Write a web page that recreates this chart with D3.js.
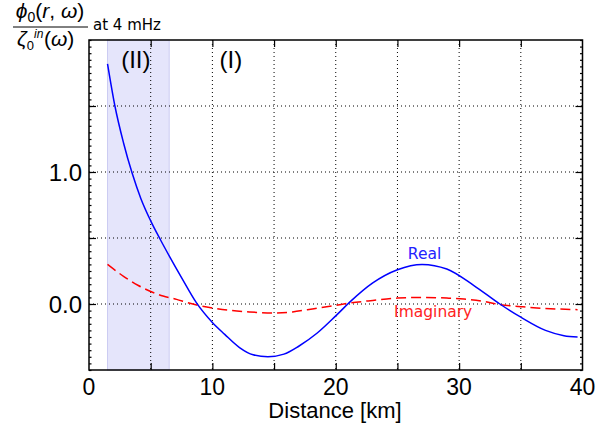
<!DOCTYPE html>
<html>
<head>
<meta charset="utf-8">
<script src="https://cdn.jsdelivr.net/npm/d3@7"></script>
<style>
  body { margin: 0; background: #fff; }
  text { font-family: "Liberation Sans", Arial, sans-serif; }
</style>
</head>
<body>
<div id="chart"></div>
<script>
// distance in km
const distReal = [1.5, 2.1, 2.8, 3.5, 4.2, 5.0, 5.8, 6.5, 7.5, 8.7, 10.0, 11.0, 12.2, 13.3, 14.5, 15.8, 17.0, 18.5, 20.0, 21.2, 23.0, 25.0, 27.0, 29.0, 31.2, 33.3, 35.0, 37.0, 38.5, 39.6];
const realPart = [1.82, 1.50, 1.22, 0.99, 0.80, 0.63, 0.485, 0.365, 0.20, 0.01, -0.14, -0.23, -0.33, -0.385, -0.40, -0.38, -0.32, -0.22, -0.09, 0.02, 0.16, 0.26, 0.30, 0.265, 0.14, 0.00, -0.10, -0.20, -0.24, -0.25];

const distImag = [1.5, 2.8, 4.0, 5.0, 6.0, 7.1, 8.0, 9.0, 10.0, 11.4, 13.0, 15.0, 16.5, 17.7, 19.8, 21.2, 23.0, 25.0, 27.0, 29.0, 30.4, 32.0, 33.3, 35.0, 36.3, 38.0, 39.6];
const imagPart = [0.30, 0.21, 0.14, 0.095, 0.06, 0.035, 0.01, -0.013, -0.03, -0.048, -0.06, -0.068, -0.06, -0.043, -0.013, 0.008, 0.027, 0.045, 0.05, 0.045, 0.038, 0.02, -0.005, -0.02, -0.03, -0.038, -0.043];

const region2 = [1.5, 6.5];          // shaded zone (II)
const xTickLabels = [0, 10, 20, 30, 40];
const yTickLabels = [0.0, 1.0];
const xGrid = [5, 10, 15, 20, 25, 30, 35];
const yGrid = [0.0, 0.5, 1.0, 1.5];

var W = 598, H = 430;
var margin = {top: 40, right: 15.5, bottom: 60, left: 89};

var svg = d3.select("#chart").append("svg")
  .attr("width", W)
  .attr("height", H);

var x = d3.scaleLinear().domain([0, 40]).range([margin.left, W - margin.right]);
var y = d3.scaleLinear().domain([-0.5, 2.0]).range([H - margin.bottom, margin.top]);

// shaded area
svg.append("rect")
  .attr("x", x(region2[0]))
  .attr("y", y(2.0))
  .attr("width", x(region2[1]) - x(region2[0]))
  .attr("height", y(-0.5) - y(2.0))
  .attr("fill", "#e5e5fb")
  .attr("stroke", "#ccccf2")
  .attr("stroke-width", 1);

// grid
svg.append("g").selectAll("line")
  .data(xGrid).enter().append("line")
  .attr("x1", d => x(d)).attr("x2", d => x(d))
  .attr("y1", y(2.0)).attr("y2", y(-0.5))
  .attr("stroke", "#000").attr("stroke-width", 1)
  .attr("stroke-dasharray", "1,3");

svg.append("g").selectAll("line")
  .data(yGrid).enter().append("line")
  .attr("x1", x(0)).attr("x2", x(40))
  .attr("y1", d => y(d)).attr("y2", d => y(d))
  .attr("stroke", "#000").attr("stroke-width", 1)
  .attr("stroke-dasharray", "1,3");

// curves
var lineR = d3.line()
  .x((d, i) => x(distReal[i]))
  .y(d => y(d))
  .curve(d3.curveMonotoneX);
var lineI = d3.line()
  .x((d, i) => x(distImag[i]))
  .y(d => y(d))
  .curve(d3.curveMonotoneX);

svg.append("path")
  .attr("d", lineI(imagPart))
  .attr("fill", "none")
  .attr("stroke", "#ff0000")
  .attr("stroke-width", 1.5)
  .attr("stroke-dasharray", "10,5");

svg.append("path")
  .attr("d", lineR(realPart))
  .attr("fill", "none")
  .attr("stroke", "#0000ff")
  .attr("stroke-width", 1.5);

// axes - ticks pointing in
var axB = d3.axisBottom(x).tickValues(xGrid).tickSize(-7).tickFormat("");
var axT = d3.axisTop(x).tickValues(xGrid).tickSize(-7).tickFormat("");
var axL = d3.axisLeft(y).tickValues(yGrid).tickSize(-7).tickFormat("");
var axR = d3.axisRight(y).tickValues(yGrid).tickSize(-7).tickFormat("");
var minorY = d3.range(-0.5, 2.0001, 0.05);

svg.append("g").attr("transform", `translate(0,${y(-0.5)})`).call(axB);
svg.append("g").attr("transform", `translate(0,${y(2.0)})`).call(axT);
svg.append("g").attr("transform", `translate(${x(0)},0)`).call(axL);
svg.append("g").attr("transform", `translate(${x(40)},0)`).call(axR);
svg.append("g").attr("transform", `translate(${x(0)},0)`)
  .call(d3.axisLeft(y).tickValues(minorY).tickSize(-2.5).tickFormat(""));
svg.append("g").attr("transform", `translate(${x(40)},0)`)
  .call(d3.axisRight(y).tickValues(minorY).tickSize(-2.5).tickFormat(""));
svg.selectAll(".domain").remove();
svg.selectAll(".tick line").attr("stroke", "#000").attr("stroke-width", 1.2);

// frame
svg.append("rect")
  .attr("x", x(0)).attr("y", y(2.0))
  .attr("width", x(40) - x(0)).attr("height", y(-0.5) - y(2.0))
  .attr("fill", "none").attr("stroke", "#000").attr("stroke-width", 1.5);

// tick labels
svg.append("g").selectAll("text")
  .data(xTickLabels).enter().append("text")
  .attr("x", d => x(d)).attr("y", y(-0.5) + 25)
  .attr("text-anchor", "middle")
  .attr("font-size", 23)
  .text(d => d);

svg.append("g").selectAll("text")
  .data(yTickLabels).enter().append("text")
  .attr("x", x(0) - 7).attr("y", d => y(d) + 9)
  .attr("text-anchor", "end")
  .attr("font-size", 24)
  .text(d => d.toFixed(1));

svg.append("text")
  .attr("x", 335).attr("y", 418)
  .attr("text-anchor", "middle")
  .attr("font-size", 22)
  .text("Distance [km]");

// region labels
svg.append("text").attr("x", x(3.8)).attr("y", 68)
  .attr("text-anchor", "middle").attr("font-size", 24).text("(II)");
svg.append("text").attr("x", x(11.5)).attr("y", 68)
  .attr("text-anchor", "middle").attr("font-size", 24).text("(I)");

// series labels
svg.append("text").attr("x", x(27.2)).attr("y", 259)
  .attr("text-anchor", "middle").attr("font-size", 15.5)
  .style("font-family", "DejaVu Sans")
  .attr("fill", "#2222ff").text("Real");
svg.append("text").attr("x", x(27.9)).attr("y", 317)
  .attr("text-anchor", "middle").attr("font-size", 15.5)
  .style("font-family", "DejaVu Sans")
  .attr("fill", "#ff2222").text("Imaginary");

// y label (fraction)
var lab = svg.append("g").style("font-family", "'Liberation Serif', serif");
var num = lab.append("text").attr("x", 50).attr("y", 18)
  .attr("text-anchor", "middle").attr("font-size", 21);
num.append("tspan").attr("font-style", "italic").text("ϕ");
num.append("tspan").attr("font-size", 14).attr("dy", 4).text("0");
num.append("tspan").attr("dy", -4).text("(");
num.append("tspan").attr("font-style", "italic").text("r");
num.append("tspan").text(", ");
num.append("tspan").attr("font-style", "italic").text("ω");
num.append("tspan").text(")");

lab.append("line").attr("x1", 13).attr("x2", 88).attr("y1", 27).attr("y2", 27)
  .attr("stroke", "#000").attr("stroke-width", 1);

var den = lab.append("text").attr("x", 17).attr("y", 46)
  .attr("font-size", 21);
den.append("tspan").attr("font-style", "italic").text("ζ");
den.append("tspan").attr("font-size", 13).attr("dy", 4).text("0");
den.append("tspan").attr("dx", 10).attr("dy", -4).text("(");
den.append("tspan").attr("font-style", "italic").text("ω");
den.append("tspan").text(")");
lab.append("text").attr("x", 34).attr("y", 38)
  .attr("font-size", 12).attr("font-style", "italic").text("in");

svg.append("text").attr("x", 93).attr("y", 30)
  .style("font-family", "DejaVu Sans")
  .attr("font-size", 15).text("at 4 mHz");
</script>
</body>
</html>
